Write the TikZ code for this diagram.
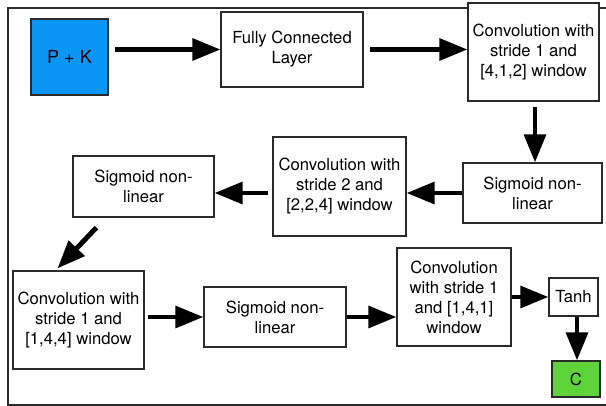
\documentclass[tikz,border=0pt]{standalone}
\usepackage{fontspec}
\setmainfont{TeX Gyre Heros}
\usetikzlibrary{arrows.meta}
\definecolor{pkblue}{HTML}{0B96F6}
\definecolor{cgreen}{HTML}{5ED43A}
\definecolor{edge}{HTML}{2A2A2A}
\begin{document}
\begin{tikzpicture}[x=0.75pt,y=-0.75pt,
  box/.style 2 args={draw=edge,line width=0.8pt,fill=white,inner sep=0pt,
    minimum width={#1*0.75pt},minimum height={#2*0.75pt},align=center,
    font=\fontsize{12.5}{15}\selectfont},
  arr/.style={line width=3.7pt,-{Triangle[length=21pt,width=16pt]}}]
\useasboundingbox (0,0) rectangle (606,406);
% frame
\draw[edge,line width=0.8pt] (606,8) -- (8,8) -- (8,405) -- (606,405);
% nodes
\node[box={77}{76},fill=pkblue,font=\fontsize{13.5}{16}\selectfont] (pk) at (69.5,57) {P + K};
\node[box={142}{75}] (fc) at (292,49.5) {Fully Connected\\Layer};
\node[box={131}{98}] (c1) at (533.5,52) {Convolution with\\stride 1 and\\{[4,1,2]} window};
\node[box={139}{60}] (s1) at (532.5,193) {Sigmoid non-\\linear};
\node[box={133}{99}] (c2) at (339.5,186.5) {Convolution with\\stride 2 and\\{[2,2,4]} window};
\node[box={141}{61}] (s2) at (143.5,186.5) {Sigmoid non-\\linear};
\node[box={131}{98}] (c3) at (78.5,320) {Convolution with\\stride 1 and\\{[1,4,4]} window};
\node[box={142}{60}] (s3) at (275,317) {Sigmoid non-\\linear};
\node[box={114}{98}] (c4) at (454,297) {Convolution\\with stride 1\\and [1,4,1]\\window};
\node[box={49}{38}] (tanh) at (573.5,297) {Tanh};
\node[box={48}{36},fill=cgreen] (cc) at (576,379) {C};
% connectors
\draw[arr,shorten <=5pt] (pk.east |- fc.west) -- (fc.west);
\draw[arr,shorten <=4.5pt] (fc.east) -- (fc.east -| c1.west);
\draw[arr,shorten <=4pt] ([shift={(1.5,0)}]c1.south) -- ([shift={(1.5,0)}]c1.south |- s1.north);
\draw[arr] (s1.west) -- (s1.west -| c2.east);
\draw[arr,shorten <=3pt] ([shift={(0,6.5)}]c2.west) -- ([shift={(0,6.5)}]c2.west -| s2.east);
\draw[arr] ([shift={(24,10)}]s2.south west) -- ([shift={(45,-2)}]c3.north west);
\draw[arr,shorten <=2.5pt] (c3.east |- s3.west) -- (s3.west);
\draw[arr] (s3.east) -- (s3.east -| c4.west);
\draw[arr] (tanh.west -| c4.east) -- (tanh.west);
\draw[arr] ([shift={(3.5,0)}]tanh.south) -- ([shift={(3.5,0)}]tanh.south |- cc.north);
\end{tikzpicture}
\end{document}
